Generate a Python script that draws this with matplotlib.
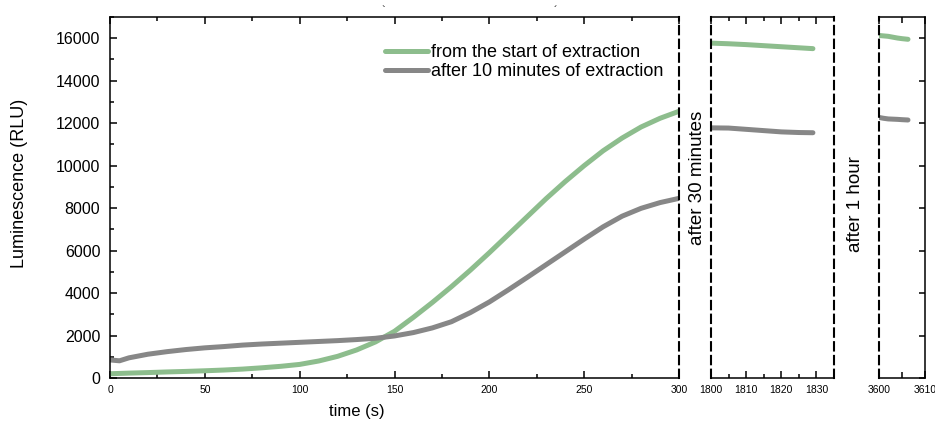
import matplotlib
matplotlib.use("Agg")
import matplotlib.pyplot as plt
from matplotlib.ticker import MultipleLocator

plt.rcParams['font.family'] = ['Liberation Sans', 'DejaVu Sans']

# ---- data ----
t_main = [0, 5, 10, 20, 30, 40, 50, 60, 70, 80, 90, 100, 110, 120, 130, 140, 150,
          160, 170, 180, 190, 200, 210, 220, 230, 240, 250, 260, 270, 280, 290, 300]
green_main = [200, 215, 230, 255, 285, 310, 340, 375, 420, 480, 550, 640, 800, 1020,
              1320, 1700, 2200, 2860, 3560, 4300, 5080, 5900, 6750, 7600, 8450, 9250,
              10000, 10700, 11300, 11820, 12230, 12560]
gray_main = [850, 810, 950, 1120, 1240, 1340, 1420, 1480, 1550, 1600, 1640, 1680, 1720,
             1760, 1810, 1870, 1980, 2140, 2360, 2650, 3080, 3580, 4150, 4740, 5340,
             5940, 6540, 7120, 7620, 7990, 8260, 8460]

t_30 = [1800, 1805, 1810, 1815, 1820, 1825, 1829]
green_30 = [15770, 15740, 15700, 15650, 15600, 15550, 15510]
gray_30 = [11780, 11770, 11710, 11650, 11590, 11560, 11550]

t_60 = [3600, 3601, 3602, 3603, 3604, 3605, 3606.3]
green_60 = [16130, 16110, 16090, 16050, 16010, 15980, 15950]
gray_60 = [12270, 12230, 12200, 12190, 12180, 12165, 12150]

labels = ["from the start of extraction", "after 10 minutes of extraction"]
GREEN = "#8dbd8d"
GRAY = "#878787"
LW = 3.6

W, H = 935, 425
fig = plt.figure(figsize=(W / 100, H / 100), dpi=100)

def ax_at(l, r, t, b):
    return fig.add_axes([l / W, 1 - b / H, (r - l) / W, (b - t) / H])

ax1 = ax_at(110, 679, 17, 378)
ax2 = ax_at(711, 834, 17, 378)
ax3 = ax_at(879, 925, 17, 378)

for ax in (ax1, ax2, ax3):
    ax.set_ylim(0, 17000)
    for s in ax.spines.values():
        s.set_linewidth(1.1)
        s.set_color('black')

ax1.plot(t_main, green_main, color=GREEN, lw=LW, label=labels[0], solid_capstyle='round')
ax1.plot(t_main, gray_main, color=GRAY, lw=LW, label=labels[1], solid_capstyle='round')
ax2.plot(t_30, green_30, color=GREEN, lw=LW, solid_capstyle='round')
ax2.plot(t_30, gray_30, color=GRAY, lw=LW, solid_capstyle='round')
ax3.plot(t_60, green_60, color=GREEN, lw=LW, solid_capstyle='round')
ax3.plot(t_60, gray_60, color=GRAY, lw=LW, solid_capstyle='round')

ax1.set_xlim(0, 300)
ax2.set_xlim(1800, 1835)
ax3.set_xlim(3600, 3610)

dash = (0, (4, 2.6))
for ax, side in ((ax1, 'right'), (ax2, 'left'), (ax2, 'right'), (ax3, 'left')):
    ax.spines[side].set_linestyle(dash)
    ax.spines[side].set_linewidth(1.5)

# main axes ticks
ax1.xaxis.set_major_locator(MultipleLocator(50))
ax1.xaxis.set_minor_locator(MultipleLocator(25))
ax1.yaxis.set_major_locator(MultipleLocator(2000))
ax1.yaxis.set_minor_locator(MultipleLocator(1000))
ax1.tick_params(axis='x', which='both', direction='in', top=True, bottom=True,
                labelsize=7.5, pad=5)
ax1.tick_params(axis='y', which='both', direction='in', left=True, right=False,
                labelsize=11.5, pad=7)
ax1.tick_params(which='major', length=5, width=1.1)
ax1.tick_params(which='minor', length=3, width=1.1)

ax2.xaxis.set_major_locator(MultipleLocator(10))
ax2.xaxis.set_minor_locator(MultipleLocator(5))
ax2.tick_params(axis='x', which='both', direction='in', top=True, bottom=True,
                labelsize=7.5, pad=5, width=1.1)
ax2.tick_params(axis='x', which='major', length=5)
ax2.tick_params(axis='x', which='minor', length=3)
ax2.tick_params(axis='y', which='both', left=False, right=False, labelleft=False)

ax3.xaxis.set_major_locator(MultipleLocator(10))
ax3.xaxis.set_minor_locator(MultipleLocator(5))
ax3.yaxis.set_major_locator(MultipleLocator(2000))
ax3.tick_params(axis='x', which='both', direction='in', top=True, bottom=True,
                labelsize=7.5, pad=5, width=1.1)
ax3.tick_params(axis='x', which='major', length=5)
ax3.tick_params(axis='x', which='minor', length=4)
ax3.tick_params(axis='y', which='both', direction='in', left=False, right=True,
                labelleft=False, labelright=False, length=4, width=1.1)
ax3.yaxis.set_minor_locator(MultipleLocator(100000))

ax1.set_xlabel("time (s)", fontsize=12)
ax1.xaxis.set_label_coords((357 - 110) / 569, -0.072)
ax1.set_ylabel("Luminescence (RLU)", fontsize=13)
ax1.yaxis.set_label_coords((28 - 110) / 569, (378 - 183) / 361)

fig.text(698 / W, 1 - 178 / H, "after 30 minutes", rotation=90, fontsize=13.5,
         ha='center', va='center')
fig.text(855 / W, 1 - 204 / H, "after 1 hour", rotation=90, fontsize=13.5,
         ha='center', va='center')

# small marks at the top of the reference
fig.text(383 / W, 1 - 11 / H, "`", fontsize=8, ha='center', va='center')
fig.text(555 / W, 1 - 11 / H, "\u00b4", fontsize=8, ha='center', va='center')

leg = ax1.legend(loc='upper left', bbox_to_anchor=(385 / W, 1 - 44 / H),
                 bbox_transform=fig.transFigure, frameon=False, fontsize=13,
                 handlelength=2.4, handletextpad=0.15, labelspacing=0.12,
                 borderpad=0, borderaxespad=0)

fig.savefig("out.png", dpi=100)
